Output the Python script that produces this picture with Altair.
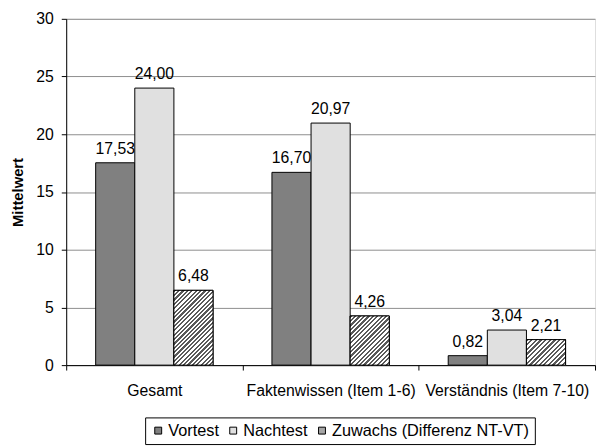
import altair as alt
import pandas as pd
import math

categories = ["Gesamt", "Faktenwissen (Item 1-6)", "Verständnis (Item 7-10)"]
series = ["Vortest", "Nachtest", "Zuwachs (Differenz NT-VT)"]
vortest = [17.53, 16.70, 0.82]
nachtest = [24.00, 20.97, 3.04]
zuwachs = [6.48, 4.26, 2.21]
y_ticks = [0, 5, 10, 15, 20, 25, 30]

rows = []
for i, c in enumerate(categories):
    for s, vals in zip(series, [vortest, nachtest, zuwachs]):
        v = vals[i]
        rows.append({"Kategorie": c, "Serie": s, "Wert": v,
                     "Label": f"{v:.2f}".replace(".", ",")})
df = pd.DataFrame(rows)

FONT = "Liberation Sans"
W_PLOT, H_PLOT, Y_MAX = 536, 351, 30
OUTER = 0.753
BAR_W = W_PLOT / len(categories) / (3 + 2 * OUTER)

def hatch_gradient(value, spacing=3.2):
    """45-degree striped gradient sized to the bar's pixel box (style only)."""
    w = BAR_W
    h = max(value * H_PLOT / Y_MAX, 1.0)
    k = (w + h) / (w * w + h * h)
    n = max(2, int(round((w + h) / math.sqrt(2) / spacing)))
    st = []
    for j in range(n):
        a = j / n
        b = (j + 0.5) / n
        c = (j + 1) / n
        st += [alt.GradientStop(color="#5a5a5a", offset=a),
               alt.GradientStop(color="#5a5a5a", offset=b),
               alt.GradientStop(color="#ffffff", offset=b),
               alt.GradientStop(color="#ffffff", offset=c)]
    return alt.Gradient(gradient="linear", stops=st, x1=0, y1=0, x2=w * k, y2=h * k)

x_enc = alt.X("Kategorie:N", sort=categories, title=None,
              scale=alt.Scale(domain=categories, paddingInner=0, paddingOuter=0),
              axis=alt.Axis(labelAngle=0, labelFontSize=16, labelFont=FONT, labelColor="black",
                            domainColor="black", tickColor="black", tickSize=5,
                            tickBand="extent", labelPadding=13, grid=False, labelLimit=0))
xo_enc = alt.XOffset("Serie:N", sort=series,
                     scale=alt.Scale(domain=series, paddingInner=0, paddingOuter=OUTER))
y_enc = alt.Y("Wert:Q", title="Mittelwert",
              scale=alt.Scale(domain=[0, Y_MAX], nice=False),
              axis=alt.Axis(values=y_ticks, labelFontSize=16, labelFont=FONT, labelColor="black",
                            titleFont=FONT, titleFontSize=15, titleFontWeight="bold",
                            titleColor="black", titlePadding=11,
                            domainColor="black", tickColor="black", tickSize=5,
                            labelPadding=8, grid=True, gridColor="#8c8c8c"))

base = alt.Chart(df)

bars = base.mark_bar(stroke="black", strokeWidth=1).encode(
    x=x_enc, xOffset=xo_enc, y=y_enc,
    color=alt.Color("Serie:N", sort=series,
                    scale=alt.Scale(domain=series, range=["#808080", "#e0e0e0", "#a6a6a6"]),
                    legend=alt.Legend(title=None, orient="none", legendX=80, legendY=404,
                                      direction="horizontal", strokeColor="black",
                                      fillColor="white", padding=5,
                                      labelFontSize=16.5, labelFont=FONT, labelColor="black",
                                      labelLimit=0,
                                      symbolType="square", symbolSize=49,
                                      symbolStrokeColor="black", symbolStrokeWidth=1,
                                      columnPadding=6, labelOffset=2)),
)

hatch_layers = []
for i, c in enumerate(categories):
    hatch_layers.append(
        base.transform_filter(
            (alt.datum.Serie == series[2]) & (alt.datum.Kategorie == c)
        ).mark_bar(fill=hatch_gradient(zuwachs[i]), stroke="black", strokeWidth=1)
        .encode(x=x_enc, xOffset=xo_enc, y=y_enc)
    )

labels = base.mark_text(baseline="bottom", dy=-6, fontSize=16, font=FONT, color="black").encode(
    x=x_enc, xOffset=xo_enc, y=y_enc, text="Label:N"
)

chart = alt.layer(bars, *hatch_layers, labels).properties(
    width=W_PLOT, height=H_PLOT,
    padding={"left": 59, "top": 8, "right": 2, "bottom": 80},
    autosize="none",
).configure_view(stroke=None).configure(background="white")

chart.save("out.html", embed_options={"renderer": "svg", "actions": False})
